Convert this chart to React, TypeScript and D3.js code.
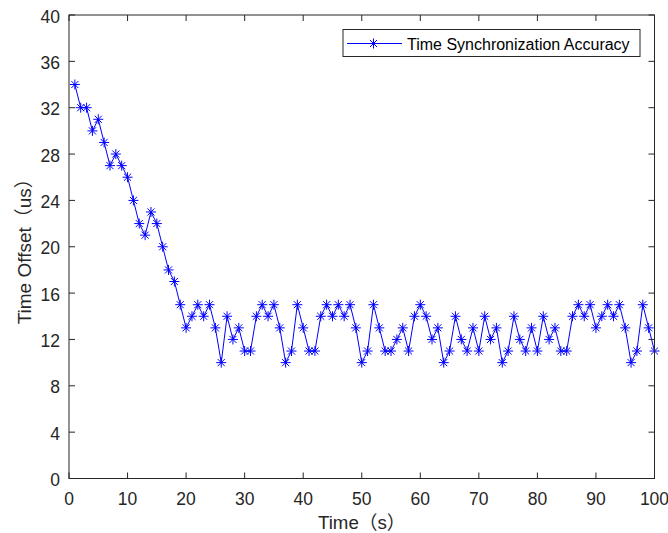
import { useEffect, useRef } from "react";
import * as d3 from "d3";

// data
const times = [
  1, 2, 3, 4, 5, 6, 7, 8, 9, 10, 11, 12, 13, 14, 15, 16, 17, 18, 19, 20,
  21, 22, 23, 24, 25, 26, 27, 28, 29, 30, 31, 32, 33, 34, 35, 36, 37, 38, 39, 40,
  41, 42, 43, 44, 45, 46, 47, 48, 49, 50, 51, 52, 53, 54, 55, 56, 57, 58, 59, 60,
  61, 62, 63, 64, 65, 66, 67, 68, 69, 70, 71, 72, 73, 74, 75, 76, 77, 78, 79, 80,
  81, 82, 83, 84, 85, 86, 87, 88, 89, 90, 91, 92, 93, 94, 95, 96, 97, 98, 99, 100,
];
const offsets = [
  34, 32, 32, 30, 31, 29, 27, 28, 27, 26, 24, 22, 21, 23, 22, 20, 18, 17, 15, 13,
  14, 15, 14, 15, 13, 10, 14, 12, 13, 11, 11, 14, 15, 14, 15, 13, 10, 11, 15, 13,
  11, 11, 14, 15, 14, 15, 14, 15, 13, 10, 11, 15, 13, 11, 11, 12, 13, 11, 14, 15,
  14, 12, 13, 10, 11, 14, 12, 11, 13, 11, 14, 12, 13, 10, 11, 14, 12, 11, 13, 11,
  14, 12, 13, 11, 11, 14, 15, 14, 15, 13, 14, 15, 14, 15, 13, 10, 11, 15, 13, 11,
];
const xTicks = [0, 10, 20, 30, 40, 50, 60, 70, 80, 90, 100];
const yTicks = [0, 4, 8, 12, 16, 20, 24, 28, 32, 36, 40];
const seriesName = "Time Synchronization Accuracy";

const WIDTH = 668;
const HEIGHT = 533;
const FONT = "'Liberation Sans', Arial, 'Noto Sans CJK SC', sans-serif";
const AXIS_COLOR = "#262626";
const BLUE = "#0000ff";

export default function App() {
  const svgRef = useRef<SVGSVGElement | null>(null);

  useEffect(() => {
    const svg = d3.select(svgRef.current);
    svg.selectAll("*").remove();

    const left = 69, right = 654.5, top = 15, bottom = 478.5;
    const x = d3.scaleLinear().domain([0, 100]).range([left, right]);
    const y = d3.scaleLinear().domain([0, 40]).range([bottom, top]);
    const tickLen = 6;

    // the line + asterisk markers
    const line = d3
      .line<number>()
      .x((_, i) => x(times[i]))
      .y((d) => y(d));

    svg
      .append("path")
      .attr("d", line(offsets))
      .attr("fill", "none")
      .attr("stroke", BLUE)
      .attr("stroke-width", 1);

    const star = (g: any, r: number) => {
      const d = r * Math.SQRT1_2;
      g.append("path")
        .attr(
          "d",
          `M${-r},0H${r}M0,${-r}V${r}M${-d},${-d}L${d},${d}M${-d},${d}L${d},${-d}`
        )
        .attr("stroke", BLUE)
        .attr("stroke-width", 1)
        .attr("fill", "none");
    };

    const marks = svg
      .append("g")
      .selectAll("g")
      .data(offsets)
      .join("g")
      .attr("transform", (d, i) => `translate(${x(times[i])},${y(d)})`);
    marks.each(function () {
      star(d3.select(this), 5);
    });

    // axes box and ticks (MATLAB style: inward, all four sides)
    const axes = svg.append("g").attr("stroke", AXIS_COLOR).attr("stroke-width", 1);
    axes
      .append("rect")
      .attr("x", left)
      .attr("y", top)
      .attr("width", right - left)
      .attr("height", bottom - top)
      .attr("fill", "none");

    xTicks.forEach((t) => {
      axes.append("line").attr("x1", x(t)).attr("x2", x(t)).attr("y1", bottom).attr("y2", bottom - tickLen);
      axes.append("line").attr("x1", x(t)).attr("x2", x(t)).attr("y1", top).attr("y2", top + tickLen);
    });
    yTicks.forEach((t) => {
      axes.append("line").attr("x1", left).attr("x2", left + tickLen).attr("y1", y(t)).attr("y2", y(t));
      axes.append("line").attr("x1", right).attr("x2", right - tickLen).attr("y1", y(t)).attr("y2", y(t));
    });

    const labels = svg
      .append("g")
      .attr("font-family", FONT)
      .attr("font-size", 17.5)
      .attr("fill", AXIS_COLOR);

    labels
      .selectAll("text.xt")
      .data(xTicks)
      .join("text")
      .attr("class", "xt")
      .attr("x", (d) => x(d))
      .attr("y", bottom + 26)
      .attr("text-anchor", "middle")
      .text((d) => d);

    labels
      .selectAll("text.yt")
      .data(yTicks)
      .join("text")
      .attr("class", "yt")
      .attr("x", left - 9)
      .attr("y", (d) => y(d) + 7.5)
      .attr("text-anchor", "end")
      .text((d) => d);

    labels
      .append("text")
      .attr("x", (left + right) / 2)
      .attr("y", 528.5)
      .attr("text-anchor", "middle")
      .attr("font-size", 18.7)
      .text("Time（s）");

    labels
      .append("text")
      .attr("transform", `translate(30.5,${(top + bottom) / 2}) rotate(-90)`)
      .attr("text-anchor", "middle")
      .attr("font-size", 19)
      .text("Time Offset（us）");

    // legend
    const legend = svg.append("g");
    legend
      .append("rect")
      .attr("x", 343)
      .attr("y", 29.5)
      .attr("width", 297)
      .attr("height", 27)
      .attr("fill", "#fff")
      .attr("stroke", AXIS_COLOR)
      .attr("stroke-width", 1);
    legend
      .append("line")
      .attr("x1", 347)
      .attr("x2", 402)
      .attr("y1", 43.5)
      .attr("y2", 43.5)
      .attr("stroke", BLUE)
      .attr("stroke-width", 1);
    const lm = legend.append("g").attr("transform", "translate(373.5,43.5)");
    star(lm, 5);
    legend
      .append("text")
      .attr("x", 407)
      .attr("y", 49.5)
      .attr("font-family", FONT)
      .attr("font-size", 16)
      .attr("fill", "#000")
      .text(seriesName);
  }, []);

  return (
    <svg
      ref={svgRef}
      width={WIDTH}
      height={HEIGHT}
      style={{ position: "absolute", left: 0, top: 0, background: "#fff" }}
    ></svg>
  );
}
